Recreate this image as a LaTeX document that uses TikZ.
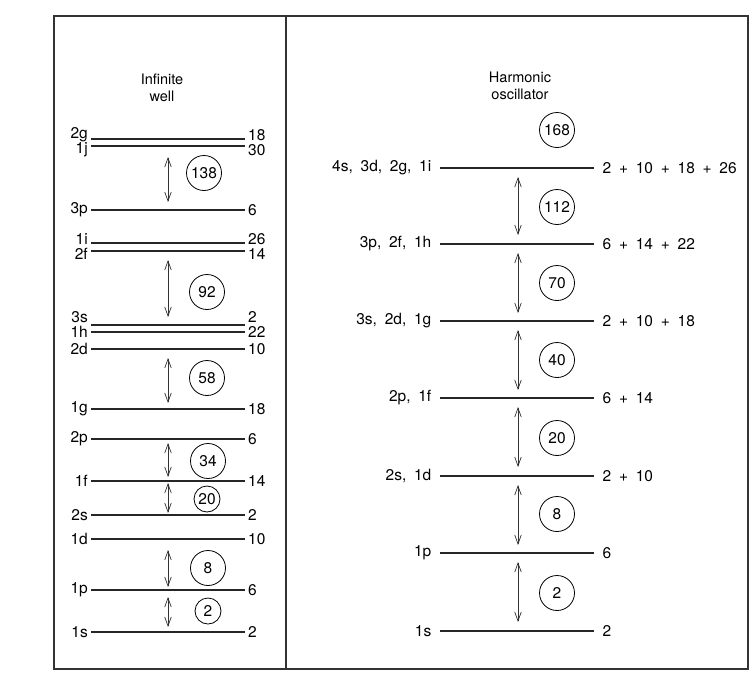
\documentclass[tikz,border=0pt]{standalone}
\usepackage{fontspec}
\setmainfont{TeX Gyre Heros}
\usetikzlibrary{arrows.meta}

\newcommand\widespaces{\spaceskip=0.5em\relax}

\begin{document}
\begin{tikzpicture}[
  x=1pt, y=-1pt,
  font=\fontsize{15.5}{18}\selectfont,
  level/.style={line width=1.4pt, draw=black!85},
  lab/.style={inner sep=2.5pt},
  far/.style={inner sep=8pt, execute at begin node=\widespaces},
  title/.style={align=center, font=\fontsize{14.5}{17}\selectfont},
  arr/.style={{Straight Barb[length=9pt,width=6.5pt]}-{Straight Barb[length=9pt,width=6.5pt]},
    line width=0.7pt, draw=black!80, shorten <=9pt, shorten >=8pt},
  ring/.style={circle, draw, line width=0.8pt, minimum size=35pt, inner sep=0pt},
  smallring/.style={ring, minimum size=26pt}
]
\useasboundingbox (0,0) rectangle (753,673);

% frame
\draw[line width=1.2pt, draw=black!80] (54,16) rectangle (748,669);
\draw[line width=1.2pt, draw=black!80] (286,16) -- (286,669);
\coordinate (axL) at (168,0);
\coordinate (axR) at (518,0);

% infinite well
\node[title] (titleL) at (162,88) {Infinite\\well};

\draw[level] (91,139) coordinate (w2g) node[lab, left, yshift=4pt] (n2g) {2g} -- (245,139) node[lab, right, yshift=4pt] (d2g) {18};
\draw[level] (91,146) coordinate (w1j) node[lab, left, yshift=-4pt] (n1j) {1j} -- (245,146) node[lab, right, yshift=-4pt] (d1j) {30};
\draw[level] (91,210) coordinate (w3p) node[lab, left] (n3p) {3p} -- (245,210) node[lab, right] (d3p) {6};
\draw[level] (91,243) coordinate (w1i) node[lab, left, yshift=4pt] (n1i) {1i} -- (245,243) node[lab, right, yshift=4pt] (d1i) {26};
\draw[level] (91,251) coordinate (w2f) node[lab, left, yshift=-3pt] (n2f) {2f} -- (245,251) node[lab, right, yshift=-3pt] (d2f) {14};
\draw[level] (91,325) coordinate (w3s) node[lab, left, yshift=8pt] (n3s) {3s} -- (245,325) node[lab, right, yshift=8pt] (d3s) {2};
\draw[level] (91,332) coordinate (w1h) node[lab, left] (n1h) {1h} -- (245,332) node[lab, right] (d1h) {22};
\draw[level] (91,349) coordinate (w2d) node[lab, left] (n2d) {2d} -- (245,349) node[lab, right] (d2d) {10};
\draw[level] (91,409) coordinate (w1g) node[lab, left] (n1g) {1g} -- (245,409) node[lab, right] (d1g) {18};
\draw[level] (91,439) coordinate (w2p) node[lab, left] (n2p) {2p} -- (245,439) node[lab, right] (d2p) {6};
\draw[level] (91,481) coordinate (w1f) node[lab, left] (n1f) {1f} -- (245,481) node[lab, right] (d1f) {14};
\draw[level] (91,515) coordinate (w2s) node[lab, left] (n2s) {2s} -- (245,515) node[lab, right] (d2s) {2};
\draw[level] (91,539) coordinate (w1d) node[lab, left] (n1d) {1d} -- (245,539) node[lab, right] (d1d) {10};
\draw[level] (91,590) coordinate (w1p) node[lab, left] (n1p) {1p} -- (245,590) node[lab, right] (d1p) {6};
\draw[level] (91,632) coordinate (w1s) node[lab, left] (n1s) {1s} -- (245,632) node[lab, right] (d1s) {2};

\draw[arr, shorten <=11pt] (axL |- w1j) -- (axL |- w3p);
\draw[arr] (axL |- w2f) -- (axL |- w3s);
\draw[arr, shorten >=6pt] (axL |- w2d) -- (axL |- w1g);
\draw[arr, shorten <=4pt, shorten >=4pt] (axL |- w2p) -- (axL |- w1f);
\draw[arr, shorten <=2pt, shorten >=2pt] (axL |- w1f) -- (axL |- w2s);
\draw[arr, shorten <=11pt, shorten >=3pt] (axL |- w1d) -- (axL |- w1p);
\draw[arr, shorten <=7pt, shorten >=5pt] (axL |- w1p) -- (axL |- w1s);

\node[ring] (m138) at (204,173) {138};
\node[ring] (m92) at (207,292) {92};
\node[ring] (m58) at (207,378) {58};
\node[ring] (m34) at (208,461) {34};
\node[smallring] (m20) at (207,499) {20};
\node[ring] (m8) at (208,568) {8};
\node[smallring] (m2) at (208,611) {2};

% harmonic oscillator
\node[title] (titleR) at (520,86) {Harmonic\\oscillator};

\draw[level] (440,168) coordinate (h4) node[far, left] (k4) {4s, 3d, 2g, 1i} -- (594,168) node[far, right] (s4) {2 + 10 + 18 + 26};
\draw[level] (440,244) coordinate (h3) node[far, left] (k3) {3p, 2f, 1h} -- (594,244) node[far, right] (s3) {6 + 14 + 22};
\draw[level] (440,321) coordinate (h2) node[far, left] (k2) {3s, 2d, 1g} -- (594,321) node[far, right] (s2) {2 + 10 + 18};
\draw[level] (440,398) coordinate (h1) node[far, left] (k1) {2p, 1f} -- (594,398) node[far, right] (s1) {6 + 14};
\draw[level] (440,476) coordinate (hd) node[far, left] (kd) {2s, 1d} -- (594,476) node[far, right] (sd) {2 + 10};
\draw[level] (440,553) coordinate (hp) node[far, left] (kp) {1p} -- (594,553) node[far, right] (sp) {6};
\draw[level] (440,631) coordinate (hs) node[far, left] (ks) {1s} -- (594,631) node[far, right] (ss) {2};

\draw[arr, shorten >=9pt] (axR |- h4) -- (axR |- h3);
\draw[arr] (axR |- h3) -- (axR |- h2);
\draw[arr] (axR |- h2) -- (axR |- h1);
\draw[arr, shorten >=9pt] (axR |- h1) -- (axR |- hd);
\draw[arr] (axR |- hd) -- (axR |- hp);
\draw[arr, shorten >=9pt] (axR |- hp) -- (axR |- hs);

\node[ring] (o168) at (557,130) {168};
\node[ring] (o112) at (557,207) {112};
\node[ring] (o70) at (557,283) {70};
\node[ring] (o40) at (557,360) {40};
\node[ring] (o20) at (557,438) {20};
\node[ring] (o8) at (557,514) {8};
\node[ring] (o2) at (557,593) {2};

\end{tikzpicture}
\end{document}
